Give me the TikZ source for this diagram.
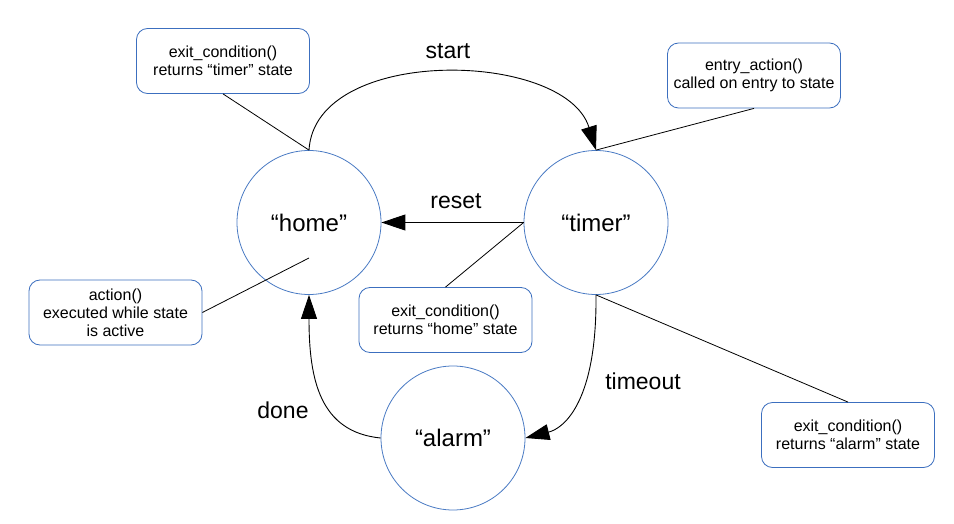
\documentclass[tikz,border=0pt]{standalone}
\usepackage{fontspec}
\setmainfont{Liberation Sans}
\usetikzlibrary{arrows.meta}
\definecolor{stateblue}{HTML}{4A7BC4}
\definecolor{boxblue}{HTML}{3C6FBF}
\tikzset{
  statenode/.style={circle, draw=stateblue, line width=0.8pt, minimum size=144pt, inner sep=0pt, font=\fontsize{24}{28}\selectfont},
  notebox/.style={rectangle, rounded corners=11pt, draw=boxblue, line width=0.8pt, minimum width=173pt, minimum height=65pt, align=center, inner sep=2pt, font=\fontsize{16}{18}\selectfont},
  transition/.style={line width=0.9pt, -{Triangle[length=24pt,width=16pt]}},
  noteline/.style={line width=0.8pt},
  translabel/.style={font=\fontsize{23}{27}\selectfont}
}
\begin{document}
\begin{tikzpicture}[x=1pt,y=-1pt]
\useasboundingbox (0,0) rectangle (954,524);
\fill[white] (0,0) rectangle (954,524);
% states
\node[statenode] (home) at (309,222.5) {“home”};
\node[statenode] (timer) at (596,222.5) {“timer”};
\node[statenode] (alarm) at (453,438) {“alarm”};
% notes
\node[notebox] (n1) at (223,61) {exit\_condition()\\returns “timer” state};
\node[notebox] (n2) at (754,75.5) {entry\_action()\\called on entry to state};
\node[notebox] (n3) at (115.5,312.5) {action()\\executed while state\\is active};
\node[notebox] (n4) at (445.5,320) {exit\_condition()\\returns “home” state};
\node[notebox] (n5) at (848,435) {exit\_condition()\\returns “alarm” state};
\coordinate (homein) at (309,258);
% note lines
\draw[noteline] (n1.south) -- (home.north);
\draw[noteline] (n2.south) -- (timer.north);
\draw[noteline] (n3.east) -- (homein);
\draw[noteline] (n4.north) -- (timer.west);
\draw[noteline] (n5.north) -- (timer.south);
% transitions
\draw[transition] (home.north) .. controls (315,45) and (565,50) .. (timer.north);
\draw[transition] (timer.west) -- (home.east);
\draw[transition] (timer.south) .. controls (597,400) and (565,428) .. (alarm.east);
\draw[transition] (alarm.west) .. controls (320,432) and (309,380) .. (home.south);
% labels
\node[translabel] (lstart) at (448,51) {start};
\node[translabel] (lreset) at (456,201) {reset};
\node[translabel] (ltimeout) at (643,381) {timeout};
\node[translabel] (ldone) at (283,410) {done};
\end{tikzpicture}
\end{document}
